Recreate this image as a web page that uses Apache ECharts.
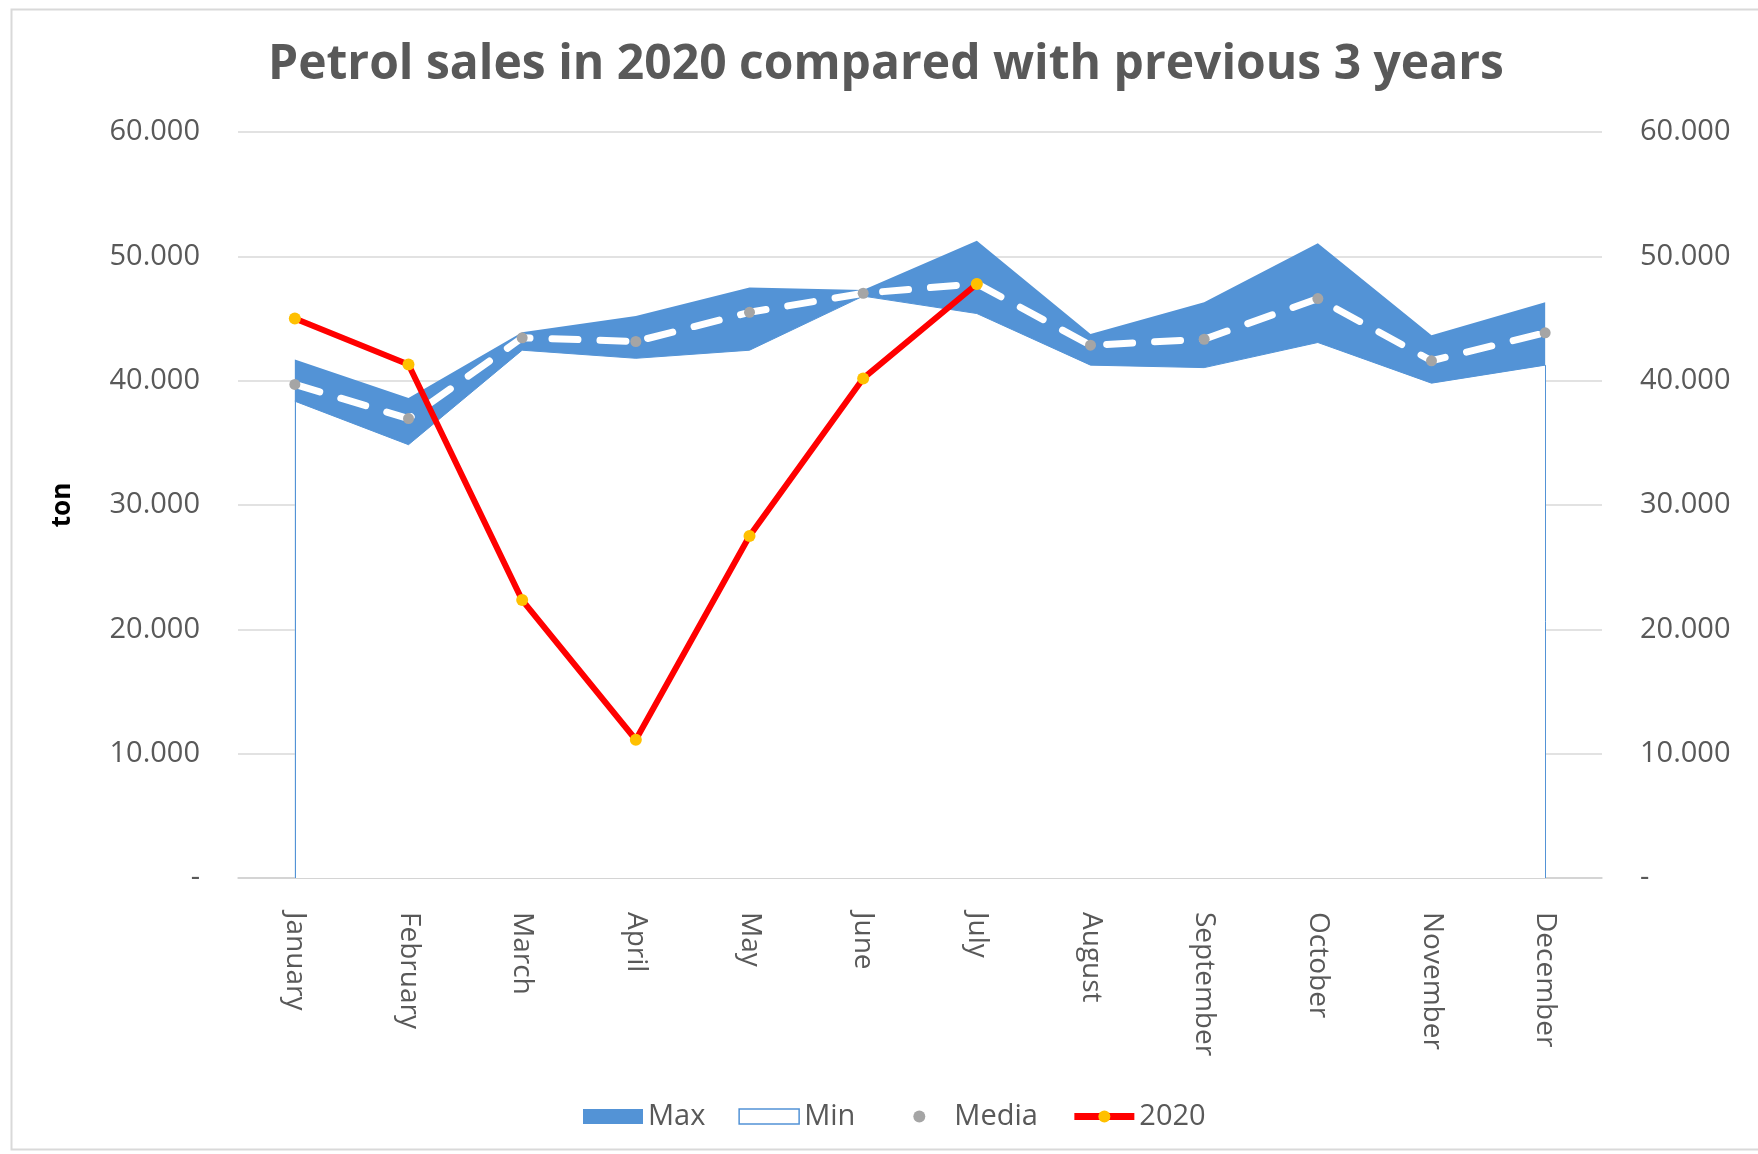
<!DOCTYPE html>
<html>
<head>
<meta charset="utf-8">
<script src="https://cdn.jsdelivr.net/npm/echarts@6/dist/echarts.min.js"></script>
<style>
html,body{margin:0;padding:0;background:#fff;}
#chart{width:1758px;height:1154px;}
</style>
</head>
<body>
<div id="chart"></div>
<script>
var months = ['January','February','March','April','May','June','July','August','September','October','November','December'];
var maxValues = [41700, 38600, 43900, 45200, 47500, 47300, 51250, 43750, 46300, 51050, 43650, 46300];
var minValues = [38350, 34850, 42450, 41800, 42450, 46800, 45400, 41250, 41050, 43070, 39800, 41250];
var mediaValues = [39700, 36950, 43450, 43150, 45500, 47030, 47800, 42850, 43330, 46600, 41600, 43850];
var sales2020 = [45000, 41300, 22350, 11120, 27500, 40180, 47780, null, null, null, null, null];
var yTicks = [0, 10000, 20000, 30000, 40000, 50000, 60000];

var blue = '#5393D6';
var labelFont = '"Open Sans", sans-serif';

function fmt(v){
  if (v === 0) return '-';
  return String(v).replace(/\B(?=(\d{3})+(?!\d))/g, '.');
}

var chart = echarts.init(document.getElementById('chart'));
var yAxisCommon = {
  type: 'value',
  min: yTicks[0],
  max: yTicks[yTicks.length-1],
  interval: yTicks[1]-yTicks[0],
  axisLine: {show:false},
  axisTick: {show:false},
  axisLabel: {formatter: fmt, color:'#595959', fontSize: 29, fontFamily: labelFont, margin: 38}
};
chart.setOption({
  animation: false,
  backgroundColor: '#fff',
  graphic: [{
    type: 'rect', shape: {x: 11.5, y: 9.5, width: 1800, height: 1140},
    style: {fill: 'none', stroke: '#d9d9d9', lineWidth: 2}, silent: true, z: -10
  }],
  title: {
    text: 'Petrol sales in 2020 compared with previous 3 years',
    left: 268, top: 36, padding: [5, 0, 5, 0],
    textStyle: {color:'#595959', fontSize: 48, fontWeight: 'bold', fontFamily: labelFont}
  },
  legend: {
    bottom: 18, left: 578,
    itemWidth: 60, itemHeight: 15, itemGap: 33,
    textStyle: {color:'#595959', fontSize: 29, fontFamily: labelFont},
    data: [
      {name:'Max', icon:'rect', itemStyle:{color: blue, borderWidth:0}},
      {name:'Min', icon:'rect', itemStyle:{color:'#fff', borderColor: blue, borderWidth:1.5}},
      {name:'Media'},
      {name:'2020', lineStyle:{width: 7, color:'#FF0000'}}
    ]
  },
  grid: {left: 238, right: 156, top: 132, bottom: 276},
  xAxis: {
    type: 'category', data: months, boundaryGap: true,
    axisLine: {lineStyle:{color:'#d0d0d0', width:1.5}},
    axisTick: {show:false},
    axisLabel: {rotate: -90, color:'#595959', fontSize: 28, fontFamily: labelFont, margin: 34}
  },
  yAxis: [
    Object.assign({}, yAxisCommon, {position:'left', name:'ton', nameLocation:'middle', nameGap: 162,
      nameTextStyle:{color:'#000', fontSize: 26, fontWeight:'bold', fontFamily: labelFont},
      splitLine:{lineStyle:{color:'#d9d9d9', width:1.5}}}),
    Object.assign({}, yAxisCommon, {position:'right', splitLine:{show:false}})
  ],
  series: [
    {
      name: 'Max', type: 'line', data: maxValues, symbol: 'none',
      lineStyle: {width: 0, color: blue}, itemStyle:{color: blue},
      areaStyle: {color: blue, opacity: 1}, z: 2
    },
    {
      name: 'Min', type: 'line', data: minValues, symbol: 'none',
      lineStyle: {width: 1, color: blue}, itemStyle:{color:'#fff'},
      areaStyle: {color: '#fff', opacity: 1}, z: 3,
      markLine: {
        silent: true, symbol: 'none', label:{show:false},
        lineStyle: {color: blue, width: 1, type: 'solid'},
        data: [
          [{coord:[months[0], 0]}, {coord:[months[0], minValues[0]]}],
          [{coord:[months[months.length-1], 0]}, {coord:[months[months.length-1], minValues[minValues.length-1]]}]
        ]
      }
    },
    {
      name: 'Media', type: 'line', data: mediaValues,
      symbol: 'circle', symbolSize: 11,
      itemStyle: {color: '#A5A5A5'},
      lineStyle: {color: '#ffffff', width: 7, type: [26, 22], cap: 'round'},
      z: 4
    },
    {
      name: '2020', type: 'line', data: sales2020,
      symbol: 'circle', symbolSize: 12,
      itemStyle: {color: '#FFC000'},
      lineStyle: {color: '#FF0000', width: 6},
      z: 5
    }
  ]
});
</script>
</body>
</html>
